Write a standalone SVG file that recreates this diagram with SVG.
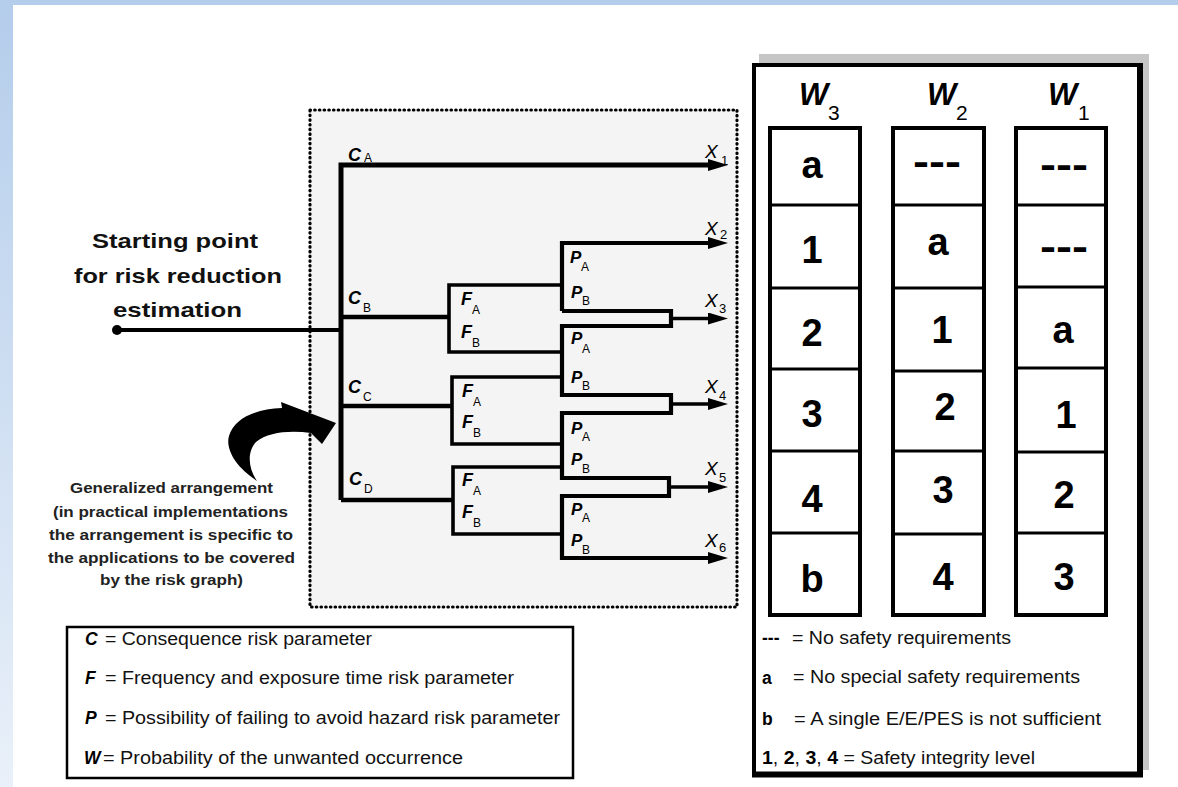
<svg xmlns="http://www.w3.org/2000/svg" width="1178" height="787" viewBox="0 0 1178 787">
<defs>
<linearGradient id="lband" x1="0" y1="0" x2="0" y2="1">
<stop offset="0" stop-color="#b4cdeb"/>
<stop offset="1" stop-color="#e9f0f9"/>
</linearGradient>
<marker id="ah" markerUnits="userSpaceOnUse" markerWidth="20" markerHeight="12" viewBox="0 0 20 12" refX="0" refY="6" orient="auto">
<path d="M0,0 L20,6 L0,12 Z" fill="#000"/>
</marker>
<style>
text{font-family:"Liberation Sans",Arial,sans-serif;fill:#000}
.ln{fill:none;stroke:#000;stroke-linejoin:miter;stroke-linecap:butt}
.lbl{font-size:18px;font-weight:bold;font-style:italic}
.plbl{font-size:17px;font-weight:bold;font-style:italic}
.xl{font-size:19px;font-style:italic}
.sub{font-size:12px;font-style:normal;font-weight:normal}
.xsub{font-size:13px;font-style:normal}
.start{font-size:21px;font-weight:bold;fill:#111}
.gen{font-size:15px;font-weight:bold;fill:#222}
.leg{font-size:17.5px;fill:#111}
.legb{font-size:17.5px;font-weight:bold;font-style:italic}
.rlegb{font-size:17.5px;font-weight:bold}
.cell{font-size:38px;font-weight:bold;text-anchor:middle}
.dash{font-size:38px;font-weight:bold}
.wh{font-size:31px;font-weight:bold;font-style:italic}
.wsub{font-size:21px}
.col{fill:#fff;stroke:#000;stroke-width:4}
.row{stroke:#000;stroke-width:3}
</style>
</defs>

<g id="background">
<rect x="0" y="0" width="1178" height="787" fill="#fff"/>
<rect x="0" y="0" width="1178" height="5" fill="#b4cdeb"/>
<rect x="0" y="0" width="13" height="787" fill="url(#lband)"/>
</g>

<g id="frame">
<rect x="310" y="110" width="427" height="497" fill="#f4f4f4" stroke="#000" stroke-width="3.2" stroke-dasharray="0.5 4.2" stroke-linecap="round"/>
</g>

<g id="connectors">
<path class="ln" d="M117,330 H341" stroke-width="4"/>
<path class="ln" d="M341,500 V165 H708" stroke-width="5" marker-end="url(#ah)"/>
<path class="ln" d="M341,317 H449" stroke-width="4.5"/>
<path class="ln" d="M341,406 H452" stroke-width="4.5"/>
<path class="ln" d="M341,500 H453" stroke-width="4.5"/>
<path class="ln" d="M562,285 H449 V352 H562" stroke-width="3.6"/>
<path class="ln" d="M562,377 H452 V444 H562" stroke-width="3.6"/>
<path class="ln" d="M562,467 H453 V534 H562" stroke-width="3.6"/>
<path class="ln" d="M562,311 V243 H708" stroke-width="4.2" marker-end="url(#ah)"/>
<path class="ln" d="M562,311 H671 V326 H562 V395 H671 V413 H562 V478 H669 V496 H562 V558 H708" stroke-width="4.2" marker-end="url(#ah)"/>
<path class="ln" d="M671,318.5 H708" stroke-width="3.5" marker-end="url(#ah)"/>
<path class="ln" d="M671,404 H708" stroke-width="3.5" marker-end="url(#ah)"/>
<path class="ln" d="M669,487 H708" stroke-width="3.5" marker-end="url(#ah)"/>
</g>

<g id="start-node">
<circle cx="117" cy="330" r="5" fill="#000"/>
<text class="start" x="92" y="248" textLength="166" lengthAdjust="spacingAndGlyphs">Starting point</text>
<text class="start" x="74" y="283" textLength="208" lengthAdjust="spacingAndGlyphs">for risk reduction</text>
<text class="start" x="113" y="317" textLength="129" lengthAdjust="spacingAndGlyphs">estimation</text>
</g>

<g id="generalized-note">
<path d="M257,481 C237,468 225,450 229,436 C234,419 254,409 282,408 L281,402 L336,423 L322,444 L311,433 C290,430 268,432 256,442 C247,452 248,468 257,481 Z" fill="#000"/>
<text class="gen" x="70" y="493" textLength="203" lengthAdjust="spacingAndGlyphs">Generalized arrangement</text>
<text class="gen" x="53" y="517" textLength="235" lengthAdjust="spacingAndGlyphs">(in practical implementations</text>
<text class="gen" x="49" y="540" textLength="244" lengthAdjust="spacingAndGlyphs">the arrangement is specific to</text>
<text class="gen" x="48" y="563" textLength="247" lengthAdjust="spacingAndGlyphs">the applications to be covered</text>
<text class="gen" x="100" y="585" textLength="143" lengthAdjust="spacingAndGlyphs">by the risk graph)</text>
</g>

<g id="branch-labels">
<text class="lbl" x="348" y="161">C<tspan class="sub" x="364" y="162">A</tspan></text>
<text class="lbl" x="348" y="304">C<tspan class="sub" x="363" y="312">B</tspan></text>
<text class="lbl" x="348" y="393">C<tspan class="sub" x="363" y="401">C</tspan></text>
<text class="lbl" x="349" y="485">C<tspan class="sub" x="364" y="493">D</tspan></text>

<text class="lbl" x="461" y="305">F<tspan class="sub" x="472" y="314">A</tspan></text>
<text class="lbl" x="461" y="338">F<tspan class="sub" x="472" y="347">B</tspan></text>
<text class="lbl" x="462" y="397">F<tspan class="sub" x="473" y="406">A</tspan></text>
<text class="lbl" x="462" y="428">F<tspan class="sub" x="473" y="437">B</tspan></text>
<text class="lbl" x="462" y="486">F<tspan class="sub" x="473" y="495">A</tspan></text>
<text class="lbl" x="462" y="518">F<tspan class="sub" x="473" y="527">B</tspan></text>

<text class="plbl" x="570" y="263">P<tspan class="sub" x="581" y="271">A</tspan></text>
<text class="plbl" x="571" y="298">P<tspan class="sub" x="582" y="305">B</tspan></text>
<text class="plbl" x="571" y="344">P<tspan class="sub" x="582" y="353">A</tspan></text>
<text class="plbl" x="571" y="383">P<tspan class="sub" x="582" y="390">B</tspan></text>
<text class="plbl" x="571" y="434">P<tspan class="sub" x="582" y="441">A</tspan></text>
<text class="plbl" x="571" y="465">P<tspan class="sub" x="582" y="473">B</tspan></text>
<text class="plbl" x="571" y="515">P<tspan class="sub" x="582" y="522">A</tspan></text>
<text class="plbl" x="571" y="546">P<tspan class="sub" x="582" y="554">B</tspan></text>

<text class="xl" x="705" y="158">X<tspan class="xsub" x="721" y="165">1</tspan></text>
<text class="xl" x="705" y="235">X<tspan class="xsub" x="720" y="239">2</tspan></text>
<text class="xl" x="705" y="307">X<tspan class="xsub" x="719" y="313">3</tspan></text>
<text class="xl" x="705" y="393">X<tspan class="xsub" x="719" y="400">4</tspan></text>
<text class="xl" x="705" y="475">X<tspan class="xsub" x="719" y="482">5</tspan></text>
<text class="xl" x="705" y="547">X<tspan class="xsub" x="719" y="552">6</tspan></text>
</g>

<g id="parameter-legend">
<rect x="67" y="627" width="506" height="151" fill="#fff" stroke="#000" stroke-width="2.5"/>
<text class="legb" x="85" y="645">C</text>
<text class="leg" x="105" y="645" textLength="267" lengthAdjust="spacingAndGlyphs">= Consequence risk parameter</text>
<text class="legb" x="85" y="684">F</text>
<text class="leg" x="105" y="684" textLength="409" lengthAdjust="spacingAndGlyphs">= Frequency and exposure time risk parameter</text>
<text class="legb" x="85" y="724">P</text>
<text class="leg" x="105" y="724" textLength="455" lengthAdjust="spacingAndGlyphs">= Possibility of failing to avoid hazard risk parameter</text>
<text class="legb" x="84" y="764">W</text>
<text class="leg" x="103" y="764" textLength="360" lengthAdjust="spacingAndGlyphs">= Probability of the unwanted occurrence</text>
</g>

<g id="sil-table">
<rect x="759" y="54" width="390" height="716" fill="#c6c6c6"/>
<rect x="754" y="65" width="386" height="709" fill="#fff" stroke="#000" stroke-width="4"/>
<path d="M1140,63 V777 M752,774.5 H1143" stroke="#000" stroke-width="6" fill="none"/>

<g id="col-w3">
<text class="wh" x="799" y="105">W</text><text class="wsub" x="828" y="120">3</text>
<rect class="col" x="770" y="128" width="90" height="487"/>
<path class="row" d="M770,205 H860 M770,288 H860 M770,369 H860 M770,451 H860 M770,533 H860"/>
<text class="cell" x="812" y="178">a</text>
<text class="cell" x="812" y="263">1</text>
<text class="cell" x="812" y="346">2</text>
<text class="cell" x="812" y="427">3</text>
<text class="cell" x="812" y="512">4</text>
<text class="cell" x="812" y="592">b</text>
</g>

<g id="col-w2">
<text class="wh" x="927" y="105">W</text><text class="wsub" x="956" y="120">2</text>
<rect class="col" x="893" y="128" width="91" height="487"/>
<path class="row" d="M893,205 H984 M893,288 H984 M893,371 H984 M893,451 H984 M893,534 H984"/>
<text class="dash" x="913" y="175" textLength="48" lengthAdjust="spacingAndGlyphs">---</text>
<text class="cell" x="938" y="255">a</text>
<text class="cell" x="942" y="343">1</text>
<text class="cell" x="945" y="420">2</text>
<text class="cell" x="943" y="503">3</text>
<text class="cell" x="943" y="590">4</text>
</g>

<g id="col-w1">
<text class="wh" x="1048" y="105">W</text><text class="wsub" x="1078" y="120">1</text>
<rect class="col" x="1016" y="128" width="90" height="487"/>
<path class="row" d="M1016,205 H1106 M1016,287 H1108 M1016,368 H1106 M1016,452 H1106 M1016,533 H1106"/>
<text class="dash" x="1040" y="178" textLength="48" lengthAdjust="spacingAndGlyphs">---</text>
<text class="dash" x="1040" y="260" textLength="48" lengthAdjust="spacingAndGlyphs">---</text>
<text class="cell" x="1063" y="343">a</text>
<text class="cell" x="1066" y="428">1</text>
<text class="cell" x="1064" y="508">2</text>
<text class="cell" x="1064" y="590">3</text>
</g>

<g id="sil-legend">
<text class="rlegb" x="762" y="644">---</text>
<text class="leg" x="792" y="644" textLength="219" lengthAdjust="spacingAndGlyphs">= No safety requirements</text>
<text class="rlegb" x="762" y="684">a</text>
<text class="leg" x="793" y="683" textLength="287" lengthAdjust="spacingAndGlyphs">= No special safety requirements</text>
<text class="rlegb" x="762" y="725">b</text>
<text class="leg" x="794" y="725" textLength="307" lengthAdjust="spacingAndGlyphs">= A single E/E/PES is not sufficient</text>
<text class="leg" x="762" y="764" textLength="273" lengthAdjust="spacingAndGlyphs"><tspan font-weight="bold" fill="#000">1</tspan>, <tspan font-weight="bold" fill="#000">2</tspan>, <tspan font-weight="bold" fill="#000">3</tspan>, <tspan font-weight="bold" fill="#000">4</tspan> = Safety integrity level</text>
</g>
</g>
</svg>
